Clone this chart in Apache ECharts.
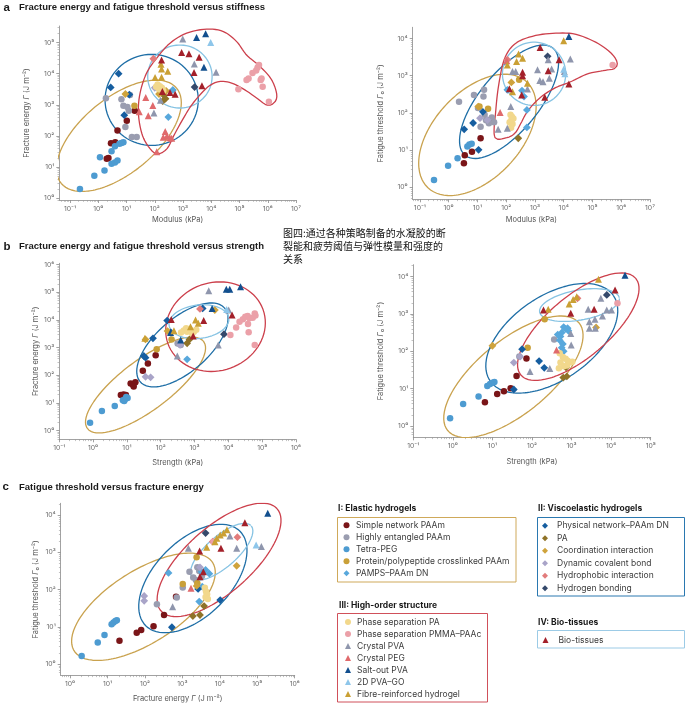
<!DOCTYPE html>
<html><head><meta charset="utf-8">
<script src="https://cdn.jsdelivr.net/npm/echarts@6/dist/echarts.min.js"></script>
<style>html,body{margin:0;padding:0;background:#fff}#c{width:685px;height:704px}</style>
</head><body><div id="c"></div>
<script>
// ---------- categories ----------
const categories = ['Simple network PAAm','Highly entangled PAAm','Tetra-PEG','Protein/polypeptide crosslinked PAAm','PAMPS\u2013PAAm DN',
  'Physical network\u2013PAAm DN','PA','Coordination interaction','Dynamic covalent bond','Hydrophobic interaction','Hydrogen bonding',
  'Phase separation PA','Phase separation PMMA\u2013PAAc','Crystal PVA','Crystal PEG','Salt-out PVA','2D PVA\u2013GO','Fibre-reinforced hydrogel',
  'Bio-tissues'];
const groupTitles = ['I: Elastic hydrogels','II: Viscoelastic hydrogels','III: High-order structure','IV: Bio-tissues'];
const regionNames = ['I','II','III','IV'];
const superDigits = {'-':'\u207B','0':'\u2070','1':'\u00B9','2':'\u00B2','3':'\u00B3','4':'\u2074','5':'\u2075','6':'\u2076','7':'\u2077','8':'\u2078','9':'\u2079'};

// ---------- data: values are log10 of the quantity [x, y] ----------
// panel a (left): modulus (kPa) vs fracture energy (J m^-2)
const dataA1 = [
  [[0.36,1.30],[0.30,1.27],[0.45,1.77],[0.60,1.80],[0.68,2.18],[1.01,2.49],[1.29,2.81]],
  [[0.27,3.21],[0.82,3.18],[0.89,2.97],[1.03,2.93],[1.08,2.81],[0.96,2.29],[1.19,1.97],[1.36,1.97],[1.12,3.32]],
  [[-0.65,0.30],[-0.14,0.73],[0.22,0.90],[0.06,1.32],[0.47,1.11],[0.59,1.15],[0.68,1.22],[0.47,1.51],[0.59,1.67],[0.75,1.75],[0.89,1.80],[0.82,1.78]],
  [[1.28,2.97]],
  [[2.48,2.61],[2.64,3.48]],
  [[0.72,4.00],[0.44,3.56],[1.10,3.33],[0.92,2.67]],
  [[2.33,3.30],[2.38,3.20],[2.28,3.12]],
  [[0.96,3.35],[2.15,3.35],[2.40,3.45]],
  [[2.00,3.55]],
  [[1.95,4.48]],
  [[3.41,3.57]],
  [[2.10,3.65],[2.18,3.60],[2.25,3.55],[2.15,3.50],[2.30,3.45],[2.05,3.58]],
  [[4.96,3.50],[5.25,3.80],[5.32,3.85],[5.46,4.02],[5.59,4.10],[5.64,4.20],[5.69,4.28],[5.75,3.80],[5.78,3.85],[5.82,3.58],[6.04,3.10]],
  [[2.99,5.11],[3.40,4.31],[4.17,4.05],[1.97,2.74],[2.20,3.15]],
  [[1.68,3.24],[1.93,2.98],[1.45,2.78],[1.77,2.65],[2.37,2.15],[2.43,2.00],[2.53,1.95],[2.60,1.93],[2.30,1.96],[2.07,1.50]],
  [[3.48,5.16],[3.80,5.28],[3.74,4.21]],
  [[3.98,5.00]],
  [[2.24,4.15],[2.46,4.08],[2.01,3.88],[2.24,3.89],[2.22,4.30]],
  [[2.95,4.68],[3.21,4.64],[3.57,4.53],[3.39,4.04],[3.67,3.61],[2.24,4.44],[2.27,3.43],[2.54,3.40],[2.72,3.34]]
];
// panel a (right): modulus (kPa) vs fatigue threshold (J m^-2)
const dataA2 = [
  [[0.56,0.86],[0.53,0.65],[0.81,0.96],[1.11,1.32],[1.43,1.81]],
  [[0.36,2.30],[0.88,2.48],[1.23,2.62],[1.21,2.44],[1.02,2.13],[1.11,1.63],[1.30,1.80],[1.40,1.72],[1.50,1.88],[1.58,1.75],[1.25,1.95]],
  [[-0.51,0.20],[-0.02,0.58],[0.31,0.78],[0.65,1.10],[0.72,1.15],[0.80,1.17]],
  [[1.07,2.17],[1.37,2.11],[2.45,2.89]],
  [[2.04,2.62],[2.72,2.08],[2.72,1.61],[2.62,2.44],[2.55,2.60]],
  [[0.54,1.56],[0.85,1.73],[1.19,2.03],[1.04,1.01]],
  [[2.42,1.32]],
  [[1.03,2.17],[2.18,2.82]],
  [[1.09,1.86],[1.35,1.81]],
  [[2.04,3.43]],
  [[3.44,3.52]],
  [[2.15,1.95],[2.20,1.90],[2.18,1.80],[2.22,1.70],[2.17,1.60],[2.25,1.85],[2.12,1.75]],
  [[5.70,3.29]],
  [[1.72,1.56],[2.04,1.59],[2.16,2.17],[2.22,3.11],[2.33,3.11],[2.74,2.64],[3.09,3.16],[3.17,2.87],[3.28,2.84],[3.50,2.93],[3.46,3.43],[3.58,3.18],[4.23,3.45],[4.02,3.11]],
  [[1.79,2.01],[2.02,3.40]],
  [[4.18,4.05]],
  [[4.00,3.17],[4.04,3.05]],
  [[4.00,3.94],[2.04,3.29],[2.36,3.38],[2.43,3.58],[2.57,3.47],[2.74,2.80],[2.22,2.57]],
  [[3.18,3.76],[3.46,3.13],[3.84,3.43],[2.57,3.09],[2.57,3.00],[2.11,2.65],[2.54,2.48],[3.34,2.42],[4.18,2.78]]
];
// panel b (left): strength (kPa) vs fracture energy
const dataB1 = [
  [[0.82,1.29],[0.90,1.31],[0.97,1.29],[1.11,1.71],[1.18,1.66],[1.25,1.75],[1.20,1.60],[1.47,2.17],[1.62,2.43],[1.85,2.73]],
  [[2.59,3.10],[2.50,3.15]],
  [[-0.09,0.29],[0.26,0.71],[0.64,0.89],[0.88,1.10],[0.95,1.15],[1.02,1.18],[0.92,1.07],[0.98,1.22]],
  [[1.88,2.94],[2.32,3.30]],
  [[2.78,2.58]],
  [[1.55,2.64],[1.77,3.34],[2.19,3.98],[3.24,4.42],[2.30,3.55],[1.50,2.70]],
  [[2.78,3.16],[2.85,3.30]],
  [[1.55,3.30],[3.60,4.36],[2.20,3.60]],
  [[1.55,1.95],[1.70,1.93],[2.57,3.10]],
  [[3.16,4.40]],
  [[3.87,3.49]],
  [[2.68,3.62],[2.78,3.58],[2.88,3.60],[2.98,3.58],[3.05,3.65],[2.75,3.70],[2.93,3.52],[2.60,3.55],[2.85,3.68]],
  [[4.06,3.46],[4.23,3.73],[4.33,3.94],[4.43,4.03],[4.50,4.12],[4.57,4.15],[4.62,4.06],[4.72,4.08],[4.78,4.24],[4.80,4.16],[4.58,3.86],[4.60,3.56],[4.78,3.10]],
  [[3.42,5.06],[4.01,4.36],[2.49,2.70],[3.70,3.10]],
  [],
  [[3.94,5.11],[4.04,5.11],[4.36,5.20],[3.52,4.42],[2.29,3.55],[2.59,3.28]],
  [[3.95,4.38]],
  [[3.03,4.00],[3.11,3.88],[2.88,3.76],[2.39,3.61],[1.53,3.34]],
  [[2.31,4.02],[3.27,3.98],[4.11,4.18],[2.96,3.42]]
];
// panel b (right): strength (kPa) vs fatigue threshold
const dataB2 = [
  [[0.81,0.64],[1.12,0.86],[1.29,0.93],[1.46,1.01],[1.61,1.34],[1.86,1.81]],
  [[2.56,2.32],[1.68,1.86]],
  [[-0.07,0.21],[0.26,0.59],[0.65,0.79],[0.87,1.07],[0.94,1.13],[1.00,1.16],[1.05,1.18]],
  [[2.32,2.86],[1.89,2.10]],
  [[2.80,2.65],[2.85,2.60],[2.90,2.62],[2.75,2.50],[2.72,2.40],[2.70,2.30],[2.78,2.20],[2.75,2.10],[2.80,2.00],[2.65,2.45],[2.92,2.55]],
  [[1.75,2.06],[2.18,1.74],[2.31,1.56],[1.54,0.98]],
  [[2.79,1.30],[2.88,1.33],[2.86,1.57]],
  [[1.00,2.15],[3.62,2.64]],
  [[1.54,1.70],[1.70,1.86]],
  [[3.15,3.42]],
  [[3.89,3.51]],
  [[2.70,1.95],[2.78,1.85],[2.85,1.80],[2.90,1.75],[2.95,1.70],[2.72,1.70],[2.68,1.55],[2.80,1.60],[2.88,1.62],[3.02,1.72]],
  [[4.16,3.29]],
  [[1.95,1.46],[2.45,1.54],[2.98,2.48],[2.99,2.17],[3.42,3.13],[3.45,2.79],[3.59,2.86],[3.78,2.95],[3.45,2.62],[3.60,2.62],[3.74,3.42],[3.89,3.11],[4.01,3.11]],
  [[2.62,2.04]],
  [[4.35,4.04]],
  [],
  [[3.68,3.93],[2.41,3.13],[2.94,3.27],[3.04,3.39],[3.13,3.46]],
  [[2.29,3.11],[2.98,3.02],[3.57,3.13],[4.10,3.64]]
];
// panel c: fracture energy vs fatigue threshold
const dataC = [
  [[1.32,0.63],[1.78,0.84],[1.90,0.92],[2.23,1.02],[2.51,1.32],[2.83,1.81]],
  [[2.32,1.61],[2.85,1.79],[3.01,2.06],[3.19,2.48],[3.29,2.33],[3.40,2.60],[3.45,2.50],[3.52,2.36],[3.36,2.26]],
  [[0.31,0.22],[0.74,0.58],[0.92,0.78],[1.11,1.07],[1.16,1.12],[1.21,1.16],[1.25,1.18]],
  [[3.01,2.15],[3.38,2.87],[3.40,2.17]],
  [[2.63,2.45],[3.51,2.48],[3.62,2.53],[3.72,2.43],[3.53,2.08],[3.45,1.68]],
  [[2.72,0.99],[4.01,1.72],[3.42,2.02]],
  [[3.28,1.29],[3.47,1.32],[3.58,1.56]],
  [[4.45,2.64],[3.38,2.10]],
  [[1.98,1.83],[1.98,1.70],[3.47,2.60]],
  [[4.47,3.41],[3.81,3.29]],
  [[3.62,3.52]],
  [[3.60,2.05],[3.63,1.95],[3.66,1.88],[3.62,1.80],[3.68,1.75]],
  [[3.83,3.29]],
  [[2.74,1.54],[3.16,3.11],[4.27,3.44],[4.45,3.11],[5.11,3.16]],
  [[3.23,2.04]],
  [[5.28,4.05]],
  [[4.97,3.20]],
  [[3.65,3.14],[3.87,3.29],[3.92,3.38],[4.01,3.47],[4.19,3.61],[4.10,3.52]],
  [[3.46,3.04],[4.03,3.11],[4.67,3.80],[3.47,2.35],[3.56,2.48]]
];

// ---------- region outlines (log10 data units): ellipse = [centre, semi-axis u, semi-axis v] ----------
const regA1 = {I:[[0.73,2.01],[2.04,1.53],[0.85,-0.92]], II:[[1.89,3.16],[1.65,0],[0,1.46]], IV:[[2.89,3.91],[1.14,0],[0,1.01]]};
const blobA1 = [[2.07,1.43],[1.77,1.67],[1.54,2.09],[1.42,2.74],[1.48,3.38],[1.71,4.02],[2.07,4.50],[2.54,4.98],[3.13,5.30],[3.84,5.43],[4.43,5.35],[4.90,5.03],[5.25,4.60],[5.73,4.23],[6.14,3.80],[6.32,3.32],[6.22,3.06],[5.96,3.00],[5.61,3.22],[5.19,3.48],[4.72,3.70],[4.29,3.75],[3.93,3.61],[3.60,3.32],[3.27,2.95],[2.95,2.47],[2.66,1.99],[2.42,1.58]];
const regA2 = {I:[[1.00,1.41],[1.72,1.42],[1.10,-0.80]], II:[[2.10,2.30],[1.53,1.44],[0.79,-0.50]], IV:[[2.97,3.05],[1.10,0],[0,0.85]]};
const blobA2 = [[1.60,1.36],[1.64,2.08],[1.75,2.80],[1.95,3.47],[2.33,3.87],[2.97,4.07],[3.67,4.14],[4.37,4.12],[5.06,3.92],[5.59,3.65],[5.85,3.38],[5.78,3.20],[5.41,3.14],[4.83,3.05],[4.25,2.84],[3.67,2.66],[3.15,2.39],[2.74,2.04],[2.51,1.72],[2.30,1.45],[1.99,1.33]];
const regB1 = {I:[[1.55,1.65],[1.72,1.57],[0.44,-0.73]], II:[[2.64,3.10],[1.25,1.33],[0.51,-0.73]], IV:[[3.13,3.94],[0.885,0.12],[0.05,-0.60]], III:[[3.62,3.76],[1.47,0.25],[-0.10,1.60]]};
const regB2 = {I:[[1.53,1.32],[1.66,1.44],[0.587,-0.757]], II:[[2.50,2.35],[1.556,1.146],[0.60,-0.916]], IV:[[3.20,3.24],[1.01,0.18],[0.04,-0.40]], III:[[3.17,2.66],[1.452,1.294],[0.499,-0.629]]};
const regC  = {I:[[1.96,1.54],[1.848,1.188],[0.517,-0.816]], II:[[3.28,2.30],[1.259,1.268],[0.711,-0.717]], IV:[[4.05,3.02],[0.788,0.695],[0.27,-0.31]], III:[[3.98,2.80],[1.551,1.373],[0.576,-0.66]]};
// region label positions (I, II, III, IV)
const lblA1 = [[-0.81,2.81],[0.63,4.52],[2.30,5.21],[2.94,3.80]];
const lblA2 = [[-0.28,2.26],[1.35,3.47],[2.86,4.19],[2.92,3.38]];
const lblB1 = [[0.18,2.22],[1.52,3.92],[5.45,4.10],[2.64,4.10]];
const lblB2 = [[0.26,1.86],[1.65,3.42],[4.60,3.20],[2.66,3.20]];
const lblC  = [[1.18,2.26],[3.01,3.61],[5.59,3.26],[4.14,2.82]];

// ---------- styles ----------
const FONT = 'Inter, "Noto Sans", "DejaVu Sans", sans-serif';
const symbols = ['circle','circle','circle','circle','diamond','diamond','diamond','diamond','diamond','diamond','diamond',
  'circle','circle','triangle','triangle','triangle','triangle','triangle','triangle'];
const colors = ['#7a1518','#9a9db0','#4d9bd1','#c9a038','#58a8dc','#165ea0','#8f7328','#cfa33c','#a9a4c8','#e27c7c','#35496b',
  '#f2d88c','#eba0a8','#8f96ad','#e06a6c','#124f8e','#8ec6ea','#caa034','#a3202a'];
const symSize = {circle:6.5, diamond:7.8, triangle:7};
const regionColors = {I:'#c9a24e', II:'#1e6ea6', III:'#cc3f4b', IV:'#86c3e3'};

const panels = [
  {data:dataA1, reg:regA1, blob:blobA1, lbl:lblA1, grid:{left:59.3,top:26,width:236.7,height:174}, x:[-1.38,7], y:[-0.05,5.53],
   xName:'Modulus (kPa)', yName:'Fracture energy {i|\u0393} (J m\u207B\u00B2)', xGap:16, yGap:29},
  {data:dataA2, reg:regA2, blob:blobA2, lbl:lblA2, grid:{left:412.7,top:27.3,width:237.3,height:172}, x:[-1.25,7], y:[-0.32,4.3],
   xName:'Modulus (kPa)', yName:'Fatigue threshold {i|\u0393}\u2080 (J m\u207B\u00B2)', xGap:16.5, yGap:28},
  {data:dataB1, reg:regB1, blob:null, lbl:lblB1, grid:{left:59.3,top:263.3,width:236.7,height:176}, x:[-1,6], y:[-0.31,6.05],
   xName:'Strength (kPa)', yName:'Fracture energy {i|\u0393} (J m\u207B\u00B2)', xGap:19, yGap:20},
  {data:dataB2, reg:regB2, blob:null, lbl:lblB2, grid:{left:413.3,top:264.7,width:237.4,height:172.6}, x:[-1,5], y:[-0.30,4.32],
   xName:'Strength (kPa)', yName:'Fatigue threshold {i|\u0393}\u2080 (J m\u207B\u00B2)', xGap:20, yGap:29},
  {data:dataC, reg:regC, blob:null, lbl:lblC, grid:{left:60.7,top:503.3,width:234,height:172}, x:[-0.25,6], y:[-0.30,4.32],
   xName:'Fracture energy {i|\u0393} (J m\u207B\u00B2)', yName:'Fatigue threshold {i|\u0393}\u2080 (J m\u207B\u00B2)', xGap:19.5, yGap:21}
];

// ---------- helpers ----------
function sup(v){ return '10' + String(Math.round(v)).split('').map(ch => superDigits[ch]).join(''); }
function majors(r){ const o=[]; for(let n=Math.ceil(r[0]); n<=Math.floor(r[1]); n++) o.push(n); return o; }
function minors(r){ const o=[]; for(let n=Math.floor(r[0]); n<=Math.ceil(r[1]); n++) for(let k=2;k<=9;k++){ const v=n+Math.log10(k); if(v>=r[0]&&v<=r[1]) o.push(v);} return o; }
function ellipsePts(e, n){ const [c,u,v]=e, out=[]; for(let i=0;i<=n;i++){ const t=2*Math.PI*i/n, ct=Math.cos(t), st=Math.sin(t);
  out.push([c[0]+u[0]*ct+v[0]*st, c[1]+u[1]*ct+v[1]*st]); } return out; }
function closedSpline(pts, seg){ const n=pts.length, out=[];
  for(let i=0;i<n;i++){ const p0=pts[(i-1+n)%n],p1=pts[i],p2=pts[(i+1)%n],p3=pts[(i+2)%n];
    for(let s=0;s<seg;s++){ const t=s/seg,t2=t*t,t3=t2*t;
      out.push([0,1].map(k=>0.5*(2*p1[k]+(-p0[k]+p2[k])*t+(2*p0[k]-5*p1[k]+4*p2[k]-p3[k])*t2+(-p0[k]+3*p1[k]-3*p2[k]+p3[k])*t3))); } }
  out.push(out[0]); return out; }

const nameRich = {i:{fontStyle:'italic', fontSize:7.5, color:'#555', fontFamily:FONT}};
const grids=[], xAxes=[], yAxes=[], series=[];
panels.forEach((p,k)=>{
  grids.push(Object.assign({containLabel:false}, p.grid));
  const common = {gridIndex:k, type:'value', splitLine:{show:false}};
  const axMajor = (r)=>({min:r[0], max:r[1],
    axisLine:{show:true, onZero:false, lineStyle:{color:'#8a8a8a', width:0.8}},
    axisTick:{show:true, inside:false, length:3, customValues:majors(r), lineStyle:{color:'#8a8a8a', width:0.8}},
    axisLabel:{show:true, customValues:majors(r), formatter:sup, fontSize:6.8, color:'#6a6a6a', fontFamily:FONT, margin:5}});
  const axMinor = (r)=>({min:r[0], max:r[1], axisLine:{show:false, onZero:false},
    axisTick:{show:true, inside:false, length:1.8, customValues:minors(r), lineStyle:{color:'#9a9a9a', width:0.6}},
    axisLabel:{show:false}});
  xAxes.push(Object.assign({}, common, axMajor(p.x), {position:'bottom', name:p.xName, nameLocation:'middle', nameGap:p.xGap,
    nameTextStyle:{fontSize:7.5, color:'#555', fontFamily:FONT, rich:nameRich}}));
  xAxes.push(Object.assign({}, common, axMinor(p.x), {position:'bottom'}));
  yAxes.push(Object.assign({}, common, axMajor(p.y), {position:'left', name:p.yName, nameLocation:'middle', nameGap:p.yGap, nameRotate:90,
    nameTextStyle:{fontSize:7.5, color:'#555', fontFamily:FONT, rich:nameRich}}));
  yAxes.push(Object.assign({}, common, axMinor(p.y), {position:'left'}));
  const ax = {xAxisIndex:2*k, yAxisIndex:2*k};
  // region outlines
  ['I','II','IV','III'].forEach(rn=>{
    let pts = null;
    if (p.reg[rn]) pts = ellipsePts(p.reg[rn], 160);
    else if (rn==='III' && p.blob) pts = closedSpline(p.blob, 12);
    if (!pts) return;
    series.push(Object.assign({type:'line', data:pts, showSymbol:false, symbol:'none', silent:true, z:2,
      lineStyle:{color:regionColors[rn], width:1.3}, animation:false}, ax));
  });
  // data points
  categories.forEach((name,i)=>{
    series.push(Object.assign({type:'scatter', name:name, symbol:symbols[i], symbolSize:symSize[symbols[i]],
      itemStyle:{color:colors[i], opacity:1}, data:p.data[i], z:3, animation:false}, ax));
  });
  // region labels
  series.push(Object.assign({type:'scatter', name:'regionLabels'+k, symbolSize:1, itemStyle:{opacity:0}, silent:true, z:4,
    data:p.lbl.map((v,j)=>({value:v, name:regionNames[j]})),
    label:{show:true, position:'inside', formatter:'{b}', fontSize:8.3, color:'#4a4a4a', fontFamily:FONT}, animation:false}, ax));
});

const legTxt = {fontSize:8.5, lineHeight:12, color:'#3c3c3c', fontFamily:FONT};
const legBase = {orient:'vertical', itemWidth:6, itemHeight:6, padding:0, selectedMode:false};
const legends = [
  Object.assign({}, legBase, {data:categories.slice(0,5), left:343.5, top:519.3, itemGap:0, textStyle:Object.assign({},legTxt,{padding:[0,0,0,1.5]})}),
  Object.assign({}, legBase, {data:categories.slice(5,11), left:542, top:519.7, itemGap:0.5, textStyle:Object.assign({},legTxt,{padding:[0,0,0,4]})}),
  Object.assign({}, legBase, {data:categories.slice(11,18), left:345, top:616, itemGap:0, textStyle:Object.assign({},legTxt,{padding:[0,0,0,1]})}),
  Object.assign({}, legBase, {data:categories.slice(18), left:542.5, top:634, itemGap:0, textStyle:Object.assign({},legTxt,{padding:[0,0,0,5]})})
];

const TFONT = '"Liberation Sans", Arial, sans-serif';
function txt(x,y,text,opt){ return {type:'text', x:x, y:y, silent:true, style:Object.assign({text:text, fill:'#1a1a1a', verticalAlign:'middle', align:'left'}, opt)}; }
const titleStyle = {fontSize:9.5, fontWeight:'bold', fontFamily:TFONT};
const graphics = [
  txt(3.5,7.5,'a',{fontSize:11.5, fontWeight:'bold', fontFamily:TFONT}),
  txt(19,7.5,'Fracture energy and fatigue threshold versus stiffness', titleStyle),
  txt(3.5,246.5,'b',{fontSize:11.5, fontWeight:'bold', fontFamily:TFONT}),
  txt(19,246.5,'Fracture energy and fatigue threshold versus strength', titleStyle),
  txt(2.5,487,'c',{fontSize:11.5, fontWeight:'bold', fontFamily:TFONT}),
  txt(19,487,'Fatigue threshold versus fracture energy', titleStyle),
  {type:'text', x:283, y:226.5, silent:true, style:{text:'图四:通过各种策略制备的水凝胶的断\n裂能和疲劳阈值与弹性模量和强度的\n关系',
    fill:'#111', fontSize:10, lineHeight:13, fontFamily:'"Noto Sans CJK SC", sans-serif', verticalAlign:'top', align:'left'}},
  txt(338,508,groupTitles[0],{fontSize:8.5, fontWeight:'bold', fontFamily:FONT}),
  txt(538,508,groupTitles[1],{fontSize:8.5, fontWeight:'bold', fontFamily:FONT}),
  txt(339,605.3,groupTitles[2],{fontSize:8.5, fontWeight:'bold', fontFamily:FONT}),
  txt(538,622.7,groupTitles[3],{fontSize:8.5, fontWeight:'bold', fontFamily:FONT}),
  {type:'rect', silent:true, shape:{x:337.5,y:517.5,width:178.5,height:64.5}, style:{fill:'none', stroke:'#cfa95a', lineWidth:1}},
  {type:'rect', silent:true, shape:{x:537.5,y:517.5,width:147,height:78.5}, style:{fill:'none', stroke:'#2a78b0', lineWidth:1}},
  {type:'rect', silent:true, shape:{x:337.5,y:613.5,width:150,height:88.5}, style:{fill:'none', stroke:'#d0505a', lineWidth:1}},
  {type:'rect', silent:true, shape:{x:537.5,y:630.5,width:147,height:17.5}, style:{fill:'none', stroke:'#9ccbe6', lineWidth:1}}
];

const chart = echarts.init(document.getElementById('c'), null, {renderer:'canvas', width:685, height:704});
chart.setOption({
  backgroundColor:'#ffffff', animation:false,
  grid:grids, xAxis:xAxes, yAxis:yAxes, series:series, legend:legends, graphic:graphics
});
</script></body></html>
